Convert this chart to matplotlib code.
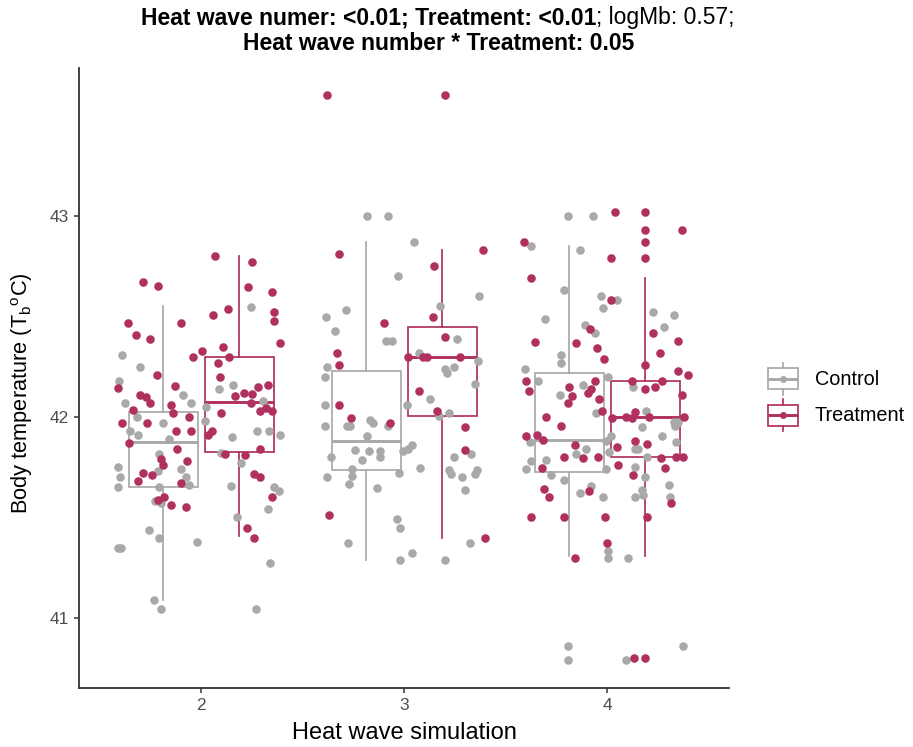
import matplotlib
matplotlib.use("Agg")
import matplotlib.pyplot as plt
from matplotlib.patches import Rectangle
from matplotlib.lines import Line2D
from matplotlib.legend_handler import HandlerBase

plt.rcParams["font.family"] = ["Liberation Sans", "DejaVu Sans"]
plt.rcParams["mathtext.fontset"] = "custom"
plt.rcParams["mathtext.rm"] = "Liberation Sans"

# ---------------------------------------------------------------- data
categories = [2, 3, 4]
group_names = ["Control", "Treatment"]
group_colors = {"Control": "#A9A9A9", "Treatment": "#B03060"}
dodge = 0.1875

# box statistics per heat wave (2, 3, 4)
box_stats = {
    "Control": {
        "whislo": [41.09, 41.287, 41.31],
        "q1":     [41.65, 41.736, 41.727],
        "med":    [41.877, 41.882, 41.885],
        "q3":     [42.025, 42.228, 42.22],
        "whishi": [42.55, 42.87, 42.85],
    },
    "Treatment": {
        "whislo": [41.41, 41.40, 41.31],
        "q1":     [41.827, 42.005, 41.80],
        "med":    [42.075, 42.30, 42.00],
        "q3":     [42.30, 42.447, 42.18],
        "whishi": [42.80, 42.83, 42.69],
    },
}

# individual body temperatures (jittered heat wave position, Tb)
control_x = [
    # heat wave 2
    2.245, 1.61, 1.70, 1.595, 2.09, 2.155, 1.91, 1.625, 1.95, 2.025, 2.305,
    1.685, 1.81, 2.02, 1.65, 2.275, 2.15, 2.335, 2.39, 1.69, 1.84,
    2.10, 1.795, 1.59, 1.60, 1.59, 1.79, 1.90, 1.925, 1.94, 1.795, 2.195,
    2.145, 2.36, 2.385, 1.775, 1.80, 2.33, 2.175, 1.745, 1.795, 1.98, 1.59,
    1.605, 2.34, 1.77, 1.80, 2.27,
    # heat wave 3
    2.815, 2.92, 3.05, 2.97, 3.37, 3.175, 2.615, 2.715, 2.66, 2.91, 2.94,
    3.26, 3.075, 2.62, 2.61, 3.365, 3.20, 3.21, 3.245, 3.35, 3.125, 3.015,
    2.61, 3.17, 3.22, 2.72, 2.735, 2.83, 2.845, 2.92, 2.61, 2.815, 3.04,
    2.995, 3.02, 2.76, 2.825, 2.88, 2.88, 2.79, 2.64, 3.245, 3.33, 3.08,
    3.22, 3.23, 3.36, 3.35, 3.285, 2.975, 2.745, 2.745, 2.73, 2.62, 2.865,
    3.30, 2.965, 2.98, 2.725, 3.325, 3.04, 2.98, 3.20,
    # heat wave 4
    3.805, 3.93, 3.625, 3.865, 3.785, 3.97, 4.05, 3.98, 4.225, 4.33, 3.695,
    4.28, 3.89, 3.94, 3.775, 3.775, 3.595, 4.005, 3.66, 3.88, 4.125, 3.77,
    3.945, 4.19, 4.33, 4.35, 4.335, 4.17, 3.62, 3.995, 4.02, 4.27, 4.34,
    4.135, 4.15, 3.845, 3.895, 4.01, 4.195, 3.625, 3.70, 3.60, 3.995, 4.135,
    3.725, 3.785, 4.185, 3.92, 3.865, 3.98, 4.17, 4.175, 4.135, 4.305, 4.31,
    4.005, 4.005, 4.105, 3.805, 3.805, 4.095, 4.375,
]
control_tb = [
    # heat wave 2
    42.545, 42.31, 42.25, 42.18, 42.14, 42.16, 42.11, 42.07, 42.07, 42.05, 42.08,
    42.00, 41.97, 41.98, 41.93, 41.93, 41.90, 41.93, 41.91, 41.91, 41.89,
    41.82, 41.815, 41.75, 41.70, 41.65, 41.73, 41.74, 41.70, 41.66, 41.65, 41.77,
    41.655, 41.65, 41.63, 41.58, 41.57, 41.54, 41.50, 41.44, 41.40, 41.38, 41.35,
    41.35, 41.275, 41.09, 41.045, 41.045,
    # heat wave 3
    43.00, 43.00, 42.87, 42.70, 42.60, 42.55, 42.50, 42.53, 42.43, 42.38, 42.38,
    42.39, 42.32, 42.25, 42.20, 42.28, 42.24, 42.22, 42.25, 42.165, 42.09, 42.06,
    42.06, 42.005, 42.02, 41.955, 41.955, 41.985, 41.97, 41.955, 41.955, 41.905, 41.86,
    41.83, 41.84, 41.835, 41.83, 41.83, 41.80, 41.785, 41.80, 41.80, 41.815, 41.745,
    41.735, 41.715, 41.735, 41.715, 41.70, 41.72, 41.74, 41.705, 41.665, 41.70, 41.645,
    41.635, 41.49, 41.45, 41.375, 41.375, 41.325, 41.29, 41.29,
    # heat wave 4
    43.00, 43.00, 42.85, 42.83, 42.63, 42.60, 42.58, 42.54, 42.52, 42.505, 42.49,
    42.45, 42.46, 42.42, 42.31, 42.27, 42.24, 42.20, 42.18, 42.16, 42.15, 42.11,
    42.02, 42.03, 41.975, 41.975, 41.955, 41.95, 41.875, 41.88, 41.905, 41.905, 41.875,
    41.84, 41.84, 41.815, 41.84, 41.825, 41.80, 41.78, 41.785, 41.74, 41.74, 41.75,
    41.71, 41.685, 41.70, 41.655, 41.62, 41.60, 41.635, 41.61, 41.60, 41.66, 41.60,
    41.335, 41.30, 41.30, 40.86, 40.79, 40.79, 40.86,
]

treatment_x = [
    # heat wave 2
    2.07, 2.25, 1.715, 1.79, 2.23, 2.35, 2.13, 2.06, 2.36, 2.36, 1.64, 1.90,
    1.68, 1.75, 2.39, 2.005, 2.11, 1.96, 2.135, 2.085, 1.785, 2.095, 1.59, 1.87,
    2.28, 2.33, 1.70, 1.73, 1.75, 2.165, 2.21, 2.25, 1.85, 1.665, 1.86, 2.245,
    2.29, 2.32, 2.35, 2.10, 1.61, 1.735, 1.94, 1.875, 1.95, 2.055, 2.035,
    1.645, 1.88, 1.80, 1.81, 1.93, 1.715, 1.76, 1.69, 1.90, 2.12, 2.215,
    2.29, 2.26, 2.29, 2.35, 1.815, 1.79, 1.85, 1.925, 2.225, 2.26,
    # heat wave 3
    2.62, 3.20, 2.68, 3.39, 3.145, 3.14, 2.90, 3.20, 2.67, 2.68, 3.02, 3.095,
    3.115, 3.275, 3.075, 2.68, 3.16, 2.74, 2.93, 3.30, 3.30, 2.63, 3.40,
    # heat wave 4
    4.04, 4.185, 4.185, 4.37, 4.185, 3.59, 4.02, 4.185, 3.625, 4.02, 3.915,
    4.225, 3.645, 3.845, 4.35, 3.95, 4.26, 3.985, 4.185, 4.35, 4.40, 3.60,
    3.94, 4.12, 4.27, 3.615, 3.81, 4.235, 4.185, 3.92, 3.905, 3.825, 4.37,
    3.96, 3.805, 3.975, 3.70, 3.775, 4.025, 4.095, 4.12, 4.135, 4.205, 4.38,
    3.60, 3.655, 3.685, 4.135, 4.195, 3.84, 4.05, 3.785, 3.88, 3.955, 4.265,
    4.34, 4.375, 3.68, 4.055, 4.285, 4.125, 3.91, 3.69, 3.715, 4.315, 3.625,
    3.785, 3.99, 4.195, 4.00, 3.84, 4.13, 4.185,
]
treatment_tb = [
    # heat wave 2
    42.80, 42.77, 42.67, 42.65, 42.645, 42.62, 42.535, 42.505, 42.52, 42.48, 42.47, 42.47,
    42.41, 42.39, 42.37, 42.33, 42.35, 42.30, 42.30, 42.27, 42.21, 42.20, 42.145, 42.155,
    42.15, 42.16, 42.11, 42.10, 42.07, 42.105, 42.12, 42.115, 42.06, 42.035, 42.02, 42.07,
    42.03, 42.045, 42.03, 42.02, 41.97, 41.97, 42.00, 41.93, 41.93, 41.93, 41.91,
    41.87, 41.84, 41.79, 41.76, 41.78, 41.72, 41.71, 41.68, 41.67, 41.815, 41.81,
    41.84, 41.715, 41.70, 41.60, 41.60, 41.585, 41.56, 41.55, 41.45, 41.40,
    # heat wave 3
    43.60, 43.60, 42.81, 42.83, 42.75, 42.50, 42.47, 42.40, 42.32, 42.26, 42.30, 42.30,
    42.30, 42.30, 42.13, 42.06, 42.03, 41.995, 41.97, 41.95, 41.835, 41.51, 41.40,
    # heat wave 4
    43.02, 43.02, 42.93, 42.93, 42.87, 42.87, 42.79, 42.79, 42.69, 42.58, 42.44,
    42.42, 42.375, 42.37, 42.38, 42.345, 42.32, 42.29, 42.26, 42.23, 42.21, 42.18,
    42.18, 42.18, 42.18, 42.13, 42.15, 42.15, 42.14, 42.14, 42.12, 42.105, 42.11,
    42.09, 42.07, 42.03, 42.00, 41.955, 41.995, 42.00, 41.995, 42.025, 42.00, 42.00,
    41.905, 41.91, 41.885, 41.88, 41.865, 41.86, 41.85, 41.80, 41.795, 41.80, 41.795,
    41.80, 41.80, 41.745, 41.76, 41.745, 41.71, 41.63, 41.64, 41.60, 41.57, 41.50,
    41.50, 41.50, 41.50, 41.375, 41.30, 40.80, 40.80,
]

title_line1 = [("Heat wave numer: <0.01; Treatment: <0.01", "bold"),
               ("; logMb: 0.57;", "normal")]
title_line2 = [("Heat wave number * Treatment: 0.05", "bold")]
x_title = "Heat wave simulation"
y_title = r"Body temperature (T$_\mathregular{b}$$^\mathregular{o}$C)"

# ---------------------------------------------------------------- figure
W, H = 913, 747
fig = plt.figure(figsize=(W / 100, H / 100), dpi=100)
ax = fig.add_axes([79.3 / W, 1 - 688.3 / H, (729 - 79.3) / W, (688.3 - 68.3) / H])

ink = "#333333"
tick_txt = "#4D4D4D"

# boxes
for sign, g in zip([-1, 1], group_names):
    st = box_stats[g]
    stats = []
    for i in range(len(categories)):
        stats.append(dict(whislo=st["whislo"][i], q1=st["q1"][i], med=st["med"][i],
                          q3=st["q3"][i], whishi=st["whishi"][i], fliers=[]))
    c = group_colors[g]
    ax.bxp(stats, positions=[k + sign * dodge for k in categories], widths=0.34,
           showcaps=False, showfliers=False, patch_artist=True,
           boxprops=dict(facecolor="white", edgecolor=c, linewidth=1.25),
           whiskerprops=dict(color=c, linewidth=1.25),
           medianprops=dict(color=c, linewidth=2.1, solid_capstyle="butt"),
           manage_ticks=False, zorder=2)

# jittered observations
ax.scatter(control_x, control_tb, s=38, color=group_colors["Control"], linewidths=0, zorder=3)
ax.scatter(treatment_x, treatment_tb, s=38, color=group_colors["Treatment"], linewidths=0, zorder=4)

ax.set_xlim(1.4, 4.6)
ax.set_ylim(40.65, 43.735)
ax.set_xticks(categories)
ax.set_xticklabels([str(c) for c in categories])
ax.set_yticks([41, 42, 43])
ax.set_yticklabels(["41", "42", "43"])
for s in ["top", "right"]:
    ax.spines[s].set_visible(False)
for s in ["left", "bottom"]:
    ax.spines[s].set_color(ink)
    ax.spines[s].set_linewidth(1.3)
ax.tick_params(axis="both", colors=ink, width=1.1, length=3.8, labelsize=12.5,
               labelcolor=tick_txt, pad=3.5)

fig.text(404 / W, 1 - 733 / H, x_title, ha="center", va="center", fontsize=17, color="black")
fig.text(22 / W, 1 - 393 / H, y_title, ha="center", va="center", rotation=90,
         fontsize=15.7, color="black")


# legend keys drawn as small boxplots with a point
class BoxKey(HandlerBase):
    def create_artists(self, legend, orig_handle, xdescent, ydescent, width, height,
                       fontsize, trans):
        c = orig_handle.get_color()
        cx = -xdescent + width / 2
        cy = -ydescent + height / 2
        bh = height * 0.66
        rect = Rectangle((cx - width / 2, cy - bh / 2), width, bh, facecolor="white",
                         edgecolor=c, lw=1.25, transform=trans)
        w1 = Line2D([cx, cx], [cy - height / 2, cy - bh / 2], color=c, lw=1.25, transform=trans)
        w2 = Line2D([cx, cx], [cy + bh / 2, cy + height / 2], color=c, lw=1.25, transform=trans)
        med = Line2D([cx - width / 2, cx + width / 2], [cy, cy], color=c, lw=2.1,
                     solid_capstyle="butt", transform=trans)
        dot = Line2D([cx], [cy], marker="o", ms=5, mew=0, color=c, transform=trans)
        return [rect, w1, w2, med, dot]


handles = [Line2D([], [], color=group_colors[g]) for g in group_names]
fig.legend(handles, group_names, handler_map={Line2D: BoxKey()},
           loc="center left", bbox_to_anchor=(768 / W, 1 - 397 / H),
           frameon=False, fontsize=14.3, handlelength=1.5, handleheight=2.1,
           labelspacing=0.22, handletextpad=0.85, borderpad=0, borderaxespad=0)

# two-line title with mixed weights, centred
fig.canvas.draw()
renderer = fig.canvas.get_renderer()


def rich_line(pieces, cx, baseline, size):
    texts = [fig.text(0, 0, s, fontsize=size, fontweight=w, va="baseline", ha="left")
             for s, w in pieces]
    widths = [t.get_window_extent(renderer).width for t in texts]
    x = cx - sum(widths) / 2
    for t, w in zip(texts, widths):
        t.set_position((x / W, 1 - baseline / H))
        x += w


rich_line(title_line1, 438, 24, 16.5)
rich_line(title_line2, 439, 50, 16.5)

fig.savefig("out.png", dpi=100)
